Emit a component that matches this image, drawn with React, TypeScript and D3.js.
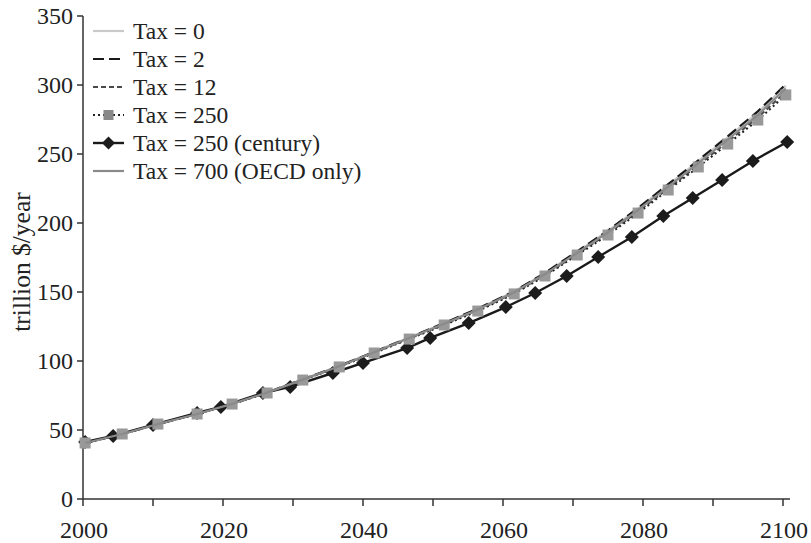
import React from "react";
import * as d3 from "d3";

// Sample years for the smooth scenarios (model output dates)
const yearsMain = [2000.3, 2005.6, 2010.7, 2016.3, 2021.3, 2026.3, 2031.4, 2036.6, 2041.6, 2046.6, 2051.6, 2056.4, 2061.6, 2066.0, 2070.6, 2075.0, 2079.3, 2083.6, 2087.9, 2092.1, 2096.4, 2100.4];

const tax0 = [40.6, 47.1, 54.3, 61.7, 69.0, 77.2, 86.7, 96.4, 106.6, 117.0, 127.4, 137.8, 150.4, 163.6, 179.2, 194.2, 210.5, 227.6, 244.8, 262.0, 280.0, 299.5];
const tax2 = [40.6, 47.1, 54.3, 61.7, 69.0, 77.2, 86.7, 96.4, 106.6, 117.0, 127.5, 137.9, 150.5, 163.8, 179.5, 194.5, 210.9, 228.1, 245.4, 262.8, 280.9, 300.5];
const tax12 = [40.6, 47.1, 54.3, 61.6, 68.9, 77.0, 86.4, 96.0, 106.1, 116.3, 126.6, 136.8, 149.3, 162.3, 177.6, 192.3, 208.3, 225.1, 242.0, 258.9, 276.5, 295.0];
const tax250 = [40.6, 47.1, 54.3, 61.6, 68.8, 76.8, 86.2, 95.7, 105.8, 115.9, 126.1, 136.2, 148.6, 161.6, 176.8, 191.3, 207.2, 223.9, 240.6, 257.2, 274.6, 292.8];
const tax700 = [40.6, 47.1, 54.3, 61.6, 68.9, 77.1, 86.5, 96.2, 106.3, 116.6, 127.0, 137.3, 149.8, 163.0, 178.4, 193.3, 209.5, 226.4, 243.4, 260.5, 278.2, 297.5];

// Century scenario has its own sample dates
const yearsCentury = [2000.3, 2004.3, 2010.0, 2016.3, 2019.7, 2025.7, 2029.6, 2035.7, 2040.0, 2046.3, 2049.6, 2055.1, 2060.4, 2064.6, 2069.1, 2073.6, 2078.4, 2082.9, 2087.1, 2091.3, 2095.7, 2100.6];
const tax250Century = [41.3, 45.7, 53.6, 62.3, 66.7, 76.8, 81.2, 91.3, 98.6, 109.4, 116.7, 127.5, 139.1, 149.3, 161.6, 175.4, 189.9, 205.1, 218.1, 231.2, 244.9, 258.7];

const xTicks = [2000, 2010, 2020, 2030, 2040, 2050, 2060, 2070, 2080, 2090, 2100];
const xLabels = [2000, 2020, 2040, 2060, 2080, 2100];
const yTicks = [0, 50, 100, 150, 200, 250, 300, 350];

const legendLabels = ["Tax = 0", "Tax = 2", "Tax = 12", "Tax = 250", "Tax = 250 (century)", "Tax = 700 (OECD only)"];

const FONT = "'Liberation Serif', 'DejaVu Serif', serif";

export default function App() {
  const W = 811, H = 543;
  const x = d3.scaleLinear().domain([2000, 2100]).range([83, 783]);
  const y = d3.scaleLinear().domain([0, 350]).range([499, 16]);

  const line = (xs: number[], vs: number[]) =>
    d3.line<number>().x((_, i) => x(xs[i])).y((v) => y(v))(vs) || "";

  const styles = [
    { stroke: "#c9c9c9", width: 2.2, dash: "" },
    { stroke: "#1a1a1a", width: 2.2, dash: "11,5" },
    { stroke: "#4a4a4a", width: 2, dash: "5,3" },
    { stroke: "#222", width: 2, dash: "2,3" },
    { stroke: "#1a1a1a", width: 2.4, dash: "" },
    { stroke: "#8a8a8a", width: 2.2, dash: "" },
  ];

  const axisColor = "#333";
  const sq = 11;
  const dm = 7;
  const diamond = (cx: number, cy: number, r: number) =>
    `M${cx},${cy - r}L${cx + r},${cy}L${cx},${cy + r}L${cx - r},${cy}Z`;

  const legX = 93, legTextX = 133, legY0 = 31, legStep = 28;

  return (
    <svg width={W} height={H} style={{ position: "absolute", left: 0, top: 0, background: "#fff" }}>
      {/* axes */}
      <line x1={83} x2={83} y1={y(350)} y2={499} stroke={axisColor} strokeWidth={1.5} />
      <line x1={83} x2={790} y1={499} y2={499} stroke={axisColor} strokeWidth={1.5} />
      {yTicks.map((t) => (
        <g key={"yt" + t}>
          <line x1={77} x2={83} y1={y(t)} y2={y(t)} stroke={axisColor} strokeWidth={1.5} />
          <text x={73} y={y(t)} dy="0.35em" textAnchor="end" fontFamily={FONT} fontSize={24} fill="#222">{t}</text>
        </g>
      ))}
      {xTicks.map((t) => (
        <line key={"xt" + t} x1={x(t)} x2={x(t)} y1={499} y2={506} stroke={axisColor} strokeWidth={1.5} />
      ))}
      {xLabels.map((t) => (
        <text key={"xl" + t} x={x(t) + 1} y={538} textAnchor="middle" fontFamily={FONT} fontSize={24} fill="#222">{t}</text>
      ))}
      <text transform={`translate(30,262) rotate(-90)`} textAnchor="middle" fontFamily={FONT} fontSize={25.5} fill="#222">trillion $/year</text>

      {/* scenario lines */}
      <path d={line(yearsMain, tax0)} fill="none" stroke={styles[0].stroke} strokeWidth={styles[0].width} />
      <path d={line(yearsMain, tax2)} fill="none" stroke={styles[1].stroke} strokeWidth={styles[1].width} strokeDasharray={styles[1].dash} />
      <path d={line(yearsMain, tax12)} fill="none" stroke={styles[2].stroke} strokeWidth={styles[2].width} strokeDasharray={styles[2].dash} />
      <path d={line(yearsCentury, tax250Century)} fill="none" stroke={styles[4].stroke} strokeWidth={styles[4].width} />
      {yearsCentury.map((yr, i) => (
        <path key={"dm" + i} d={diamond(x(yr), y(tax250Century[i]), dm)} fill="#1c1c1c" />
      ))}
      <path d={line(yearsMain, tax250)} fill="none" stroke={styles[3].stroke} strokeWidth={styles[3].width} strokeDasharray={styles[3].dash} />
      {yearsMain.map((yr, i) => (
        <rect key={"sq" + i} x={x(yr) - sq / 2} y={y(tax250[i]) - sq / 2} width={sq} height={sq} fill="#999" />
      ))}
      <path d={line(yearsMain, tax700)} fill="none" stroke={styles[5].stroke} strokeWidth={styles[5].width} />

      {/* legend */}
      {legendLabels.map((lab, i) => {
        const ly = legY0 + i * legStep;
        const s = styles[i];
        return (
          <g key={"lg" + i}>
            <line x1={legX} x2={legX + 31} y1={ly} y2={ly} stroke={s.stroke} strokeWidth={s.width} strokeDasharray={s.dash || undefined} />
            {i === 3 && <rect x={legX + 15.5 - 5} y={ly - 5} width={10} height={10} fill="#888" />}
            {i === 4 && <path d={diamond(legX + 15.5, ly, 6.5)} fill="#1c1c1c" />}
            <text x={legTextX} y={ly} dy="0.35em" fontFamily={FONT} fontSize={23.5} fill="#222">{lab}</text>
          </g>
        );
      })}
    </svg>
  );
}
